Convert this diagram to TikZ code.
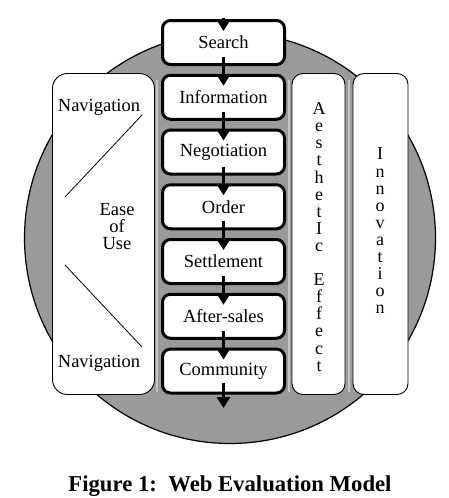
\documentclass[tikz,border=0pt]{standalone}
\usepackage{fontspec}
\setmainfont{Liberation Serif}
\usetikzlibrary{arrows.meta}
\definecolor{discgray}{HTML}{9A9A9A}
\definecolor{stripgray}{HTML}{C4C4C4}
\begin{document}
\begin{tikzpicture}[x=1pt,y=-1pt,
  stagebox/.style={draw=black, line width=3pt, rounded corners=8pt, fill=white,
    minimum width=122pt, minimum height=44pt, inner sep=0pt,
    font=\fontsize{18.5}{20}\selectfont},
  pillar/.style={draw=black, line width=0.9pt, rounded corners=11pt, fill=white,
    minimum height=321pt, inner sep=0pt},
  flow/.style={line width=3pt, -{Triangle[width=13pt,length=11pt]}},
  label/.style={font=\fontsize{18.5}{20}\selectfont, inner sep=0pt},
  stacked/.style={font=\fontsize{18}{17.1}\selectfont, align=center, inner sep=0pt},
  thinline/.style={line width=0.8pt}
]
\useasboundingbox[fill=white] (0,0) rectangle (448,498);
% disc
\node[circle, draw=black, line width=1.2pt, fill=discgray, minimum size=411pt, inner sep=0pt] (disc) at (230,238) {};
% light bevel strips
\draw[stripgray, line width=1.2pt] (157,80) -- (157,392);
\draw[stripgray, line width=1.2pt] (289,80) -- (289,392);
\draw[stripgray, line width=1.2pt] (349,80) -- (349,392);
% pillars
\node[pillar, rounded corners=15pt, minimum width=102pt] (ease) at (103.5,234) {};
\node[pillar, minimum width=53pt] (aes) at (318.5,234) {};
\node[pillar, minimum width=55pt] (inn) at (380.5,234) {};
% stages
\node[stagebox] (search) at (223.5,42.5) {Search};
\node[stagebox] (info) at (223.5,97.25) {Information};
\node[stagebox] (nego) at (223.5,152) {Negotiation};
\node[stagebox] (order) at (223.5,206.75) {Order};
\node[stagebox] (settle) at (223.5,261.5) {Settlement};
\node[stagebox] (after) at (223.5,316.25) {After-sales};
\node[stagebox] (comm) at (223.5,371) {Community};
% flow arrows
\coordinate (exit) at (223.5,408);
\draw[flow] ([yshift=1pt]search.north) -- ([yshift=-12pt]search.north);
\draw[flow] ([yshift=9pt]search.south) -- ([yshift=-12pt]info.north);
\draw[flow] ([yshift=9pt]info.south) -- ([yshift=-12pt]nego.north);
\draw[flow] ([yshift=9pt]nego.south) -- ([yshift=-12pt]order.north);
\draw[flow] ([yshift=9pt]order.south) -- ([yshift=-12pt]settle.north);
\draw[flow] ([yshift=9pt]settle.south) -- ([yshift=-12pt]after.north);
\draw[flow] ([yshift=9pt]after.south) -- ([yshift=-12pt]comm.north);
\draw[flow] ([yshift=12pt]comm.south) -- (exit);
% ease of use contents
\node[label] (navtop) at (99,107) {Navigation};
\node[label] (navbot) at (99,363) {Navigation};
\node[stacked, font=\fontsize{18.5}{17}\selectfont] (eou) at (117,227) {Ease\\of\\Use};
\coordinate (l1a) at (142,115);
\coordinate (l1b) at (65,197);
\coordinate (l2a) at (65,265);
\coordinate (l2b) at (142,347);
\draw[thinline] (l1a) -- (l1b);
\draw[thinline] (l2a) -- (l2b);
% vertical words
\node[stacked] (aestext) at (319,237) {A\\e\\s\\t\\h\\e\\t\\I\\c\\[17.1pt]E\\f\\f\\e\\c\\t};
\node[stacked] (inntext) at (380,231) {I\\n\\n\\o\\v\\a\\t\\i\\o\\n};
% caption
\node[font=\bfseries\fontsize{22.7}{26}\selectfont, inner sep=0pt] (caption) at (230,486) {Figure 1:\ \ Web Evaluation Model};
\end{tikzpicture}
\end{document}
